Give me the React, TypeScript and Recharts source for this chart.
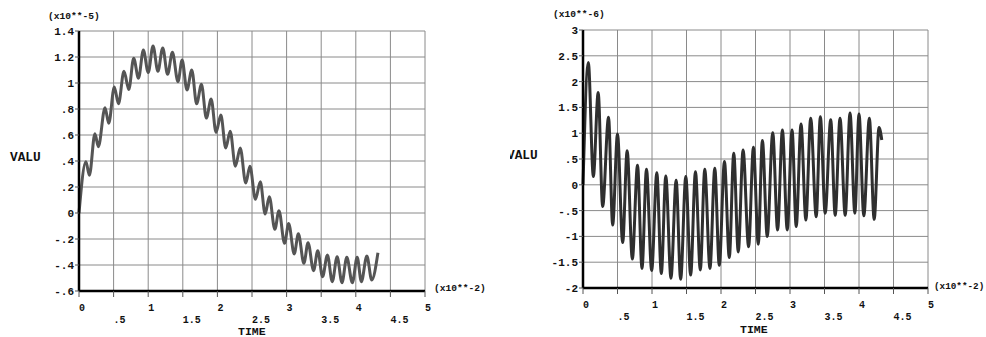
import React from 'react';
import { LineChart, Line, XAxis, YAxis, CartesianGrid } from 'recharts';

const timeTicks = [0, 0.5, 1, 1.5, 2, 2.5, 3, 3.5, 4, 4.5, 5];
const leftTicks = [-0.6, -0.4, -0.2, 0, 0.2, 0.4, 0.6, 0.8, 1, 1.2, 1.4];
const rightTicks = [-2, -1.5, -1, -0.5, 0, 0.5, 1, 1.5, 2, 2.5, 3];

// left plot: VALU (x10**-5) vs TIME (x10**-2), peaks and troughs
const leftTime = [
  0, 0.1, 0.15, 0.23, 0.28, 0.376, 0.43, 0.51, 0.57, 0.65, 0.72, 0.79, 0.86, 0.93, 1.0, 1.07,
  1.14, 1.21, 1.28, 1.35, 1.43, 1.49, 1.56, 1.63, 1.7, 1.77, 1.84, 1.91, 1.98, 2.05, 2.12, 2.185,
  2.26, 2.33, 2.41, 2.47, 2.55, 2.62, 2.69, 2.75, 2.83, 2.89, 2.97, 3.03, 3.11, 3.17, 3.25, 3.31,
  3.39, 3.45, 3.52, 3.59, 3.66, 3.73, 3.8, 3.87, 3.95, 4.02, 4.08, 4.16, 4.23, 4.32,
];
const leftValue = [
  0.0, 0.395, 0.29, 0.61, 0.51, 0.81, 0.69, 0.97, 0.84, 1.09, 0.95, 1.19, 1.036, 1.254, 1.08, 1.285,
  1.09, 1.27, 1.067, 1.236, 1.01, 1.177, 0.946, 1.1, 0.84, 0.99, 0.73, 0.877, 0.62, 0.754, 0.5, 0.628,
  0.36, 0.5, 0.23, 0.36, 0.105, 0.24, -0.008, 0.125, -0.125, 0.018, -0.233, -0.08, -0.315, -0.16, -0.387, -0.228,
  -0.444, -0.29, -0.49, -0.323, -0.528, -0.336, -0.536, -0.34, -0.536, -0.34, -0.528, -0.33, -0.515, -0.305,
];

// right plot: VALU (x10**-6) vs TIME (x10**-2)
const rightTime = [
  0, 0.077, 0.15, 0.22, 0.285, 0.37, 0.43, 0.5, 0.575, 0.64, 0.715, 0.79, 0.855, 0.92, 0.995, 1.07,
  1.135, 1.2, 1.275, 1.35, 1.415, 1.49, 1.56, 1.63, 1.7, 1.765, 1.84, 1.91, 1.975, 2.05, 2.12, 2.185,
  2.25, 2.32, 2.4, 2.47, 2.54, 2.6, 2.67, 2.75, 2.82, 2.89, 2.96, 3.03, 3.09, 3.16, 3.23, 3.3,
  3.38, 3.44, 3.51, 3.59, 3.655, 3.725, 3.8, 3.87, 3.94, 4.0, 4.07, 4.15, 4.22, 4.29, 4.33,
];
const rightValue = [
  0, 2.37, 0.16, 1.79, -0.42, 1.31, -0.78, 0.985, -1.12, 0.66, -1.44, 0.38, -1.62, 0.3, -1.66, 0.235,
  -1.72, 0.17, -1.81, 0.09, -1.83, 0.16, -1.75, 0.255, -1.65, 0.3, -1.62, 0.32, -1.56, 0.45, -1.41, 0.61,
  -1.3, 0.675, -1.2, 0.73, -1.15, 0.86, -1.0, 1.01, -0.875, 1.06, -0.875, 1.06, -0.81, 1.18, -0.68, 1.29,
  -0.62, 1.32, -0.55, 1.26, -0.59, 1.29, -0.59, 1.39, -0.55, 1.37, -0.6, 1.29, -0.67, 1.11, 0.87,
];

const leftData = leftTime.map((t, i) => ({ t, v: leftValue[i] }));
const rightData = rightTime.map((t, i) => ({ t, v: rightValue[i] }));

const FONT = '"Liberation Mono", "DejaVu Sans Mono", monospace';

const fmt = (v: number) => {
  const s = String(Math.round(v * 10) / 10);
  return s.replace(/^(-?)0\./, '$1.');
};

// integers on the first row, halves on a second row below
const renderTimeTick = (props: any) => {
  const { x, y, payload, index } = props;
  const v = Number(payload.value);
  const whole = Math.abs(v - Math.round(v)) < 1e-6;
  return (
    <text
      key={`tt-${index}`}
      x={x}
      y={y + (whole ? 12 : 24)}
      textAnchor="start"
      fontFamily={FONT}
      fontWeight="bold"
      fontSize={10}
      fill="#111"
    >
      {fmt(v)}
    </text>
  );
};

const yTickStyle = { fontSize: 11, fontFamily: FONT, fontWeight: 'bold', fill: '#111' };

function Plot({ data, ticks, domain, margin, yWidth, stroke }: any) {
  return (
    <LineChart width={493} height={337} data={data} margin={margin}>
      <CartesianGrid stroke="#8a8a8a" strokeWidth={1} />
      <XAxis
        dataKey="t"
        type="number"
        domain={[0, 5]}
        ticks={timeTicks}
        interval={0}
        minTickGap={0}
        height={30}
        tick={renderTimeTick}
        tickSize={6}
        axisLine={{ stroke: '#000', strokeWidth: 2.5 }}
        tickLine={{ stroke: '#555' }}
      />
      <YAxis
        type="number"
        domain={domain}
        ticks={ticks}
        interval={0}
        width={yWidth}
        tickFormatter={fmt}
        tick={yTickStyle}
        tickSize={4}
        tickMargin={1}
        axisLine={{ stroke: '#000', strokeWidth: 2.5 }}
        tickLine={{ stroke: '#555' }}
      />
      <Line
        dataKey="v"
        type="monotone"
        stroke={stroke}
        strokeWidth={3}
        dot={false}
        isAnimationActive={false}
      />
    </LineChart>
  );
}

export default function App() {
  const txt = { fontFamily: FONT, fontWeight: 'bold', fill: '#111' } as const;
  return (
    <div style={{ position: 'absolute', left: 0, top: 0, width: 986, height: 337, background: '#fff', overflow: 'hidden' }}>
      <div style={{ position: 'absolute', left: 0, top: 0 }}>
        <Plot
          data={leftData}
          ticks={leftTicks}
          domain={[-0.6, 1.4]}
          margin={{ top: 31, right: 68, bottom: 16, left: 0 }}
          yWidth={79}
          stroke="#555"
        />
      </div>
      <div style={{ position: 'absolute', left: 493, top: 0 }}>
        <Plot
          data={rightData}
          ticks={rightTicks}
          domain={[-2, 3]}
          margin={{ top: 30, right: 58, bottom: 19, left: 0 }}
          yWidth={90}
          stroke="#2f2f2f"
        />
      </div>
      <svg width={986} height={337} style={{ position: 'absolute', left: 0, top: 0, pointerEvents: 'none' }}>
        <defs>
          <clipPath id="valuClip">
            <rect x={510} y={0} width={100} height={337} />
          </clipPath>
        </defs>
        <text x={48} y={16} dominantBaseline="central" fontSize={9.6} {...txt}>(x10**-5)</text>
        <text x={553} y={14} dominantBaseline="central" fontSize={9.6} {...txt}>(x10**-6)</text>
        <text x={10} y={157} dominantBaseline="central" fontSize={12.8} {...txt}>VALU</text>
        <text x={507} y={155} dominantBaseline="central" fontSize={12.8} clipPath="url(#valuClip)" {...txt}>VALU</text>
        <text x={434} y={288} dominantBaseline="central" fontSize={9.6} {...txt}>(x10**-2)</text>
        <text x={934} y={286} dominantBaseline="central" fontSize={9.3} {...txt}>(x10**-2)</text>
        <text x={238} y={331} dominantBaseline="central" fontSize={11.5} {...txt}>TIME</text>
        <text x={740} y={329} dominantBaseline="central" fontSize={11.5} {...txt}>TIME</text>
      </svg>
    </div>
  );
}
